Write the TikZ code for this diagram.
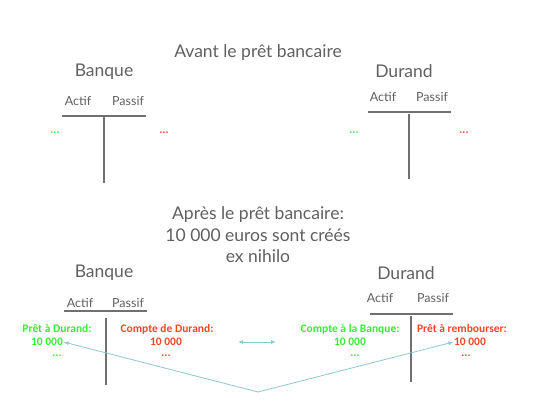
\documentclass[tikz,border=0pt]{standalone}
\usepackage{fontspec}
\setmainfont{Lato}
\newfontfamily\lblfont{Carlito}
\usetikzlibrary{arrows.meta}
\definecolor{txtgray}{HTML}{606060}
\definecolor{actgreen}{HTML}{33EE33}
\definecolor{pasred}{HTML}{FF4422}
\definecolor{arrblue}{HTML}{8CC8D2}
\begin{document}
\begin{tikzpicture}[
      x = 1pt, y = -1pt,
      every node/.style = {txtgray, inner sep = .5pt},
      title/.style = {font = \fontsize{17.5}{21.5}\selectfont},
      owner/.style = {font = \fontsize{17.5}{21}\selectfont},
      col/.style = {font = \fontsize{12.5}{15}\selectfont},
      act/.style = {actgreen, font = \lblfont\bfseries\fontsize{11.5}{13}\selectfont},
      pas/.style = {pasred, font = \lblfont\bfseries\fontsize{11.5}{13}\selectfont},
      tline/.style = {draw = txtgray!90, line width = 1.1pt},
      link/.style = {draw = arrblue, line width = .8pt, -{Latex[length=5pt,width=4pt]}}
      ]
    \useasboundingbox (0,0) rectangle (550,413);
    % avant
    \node[title] (T1) at (258,53) {Avant le prêt bancaire};
    \node[owner] (B1) at (104,72) {Banque}; % 0
    \node[owner] (D1) at (404,71) {Durand}; % 1
    \node[col] (B1a) at (78,101) {Actif};
    \node[col] (B1p) at (128,101) {Passif};
    \node[col] (D1a) at (383,97) {Actif};
    \node[col] (D1p) at (432,97) {Passif};
    \coordinate (b1l) at (62,116);
    \coordinate (b1r) at (146,116);
    \coordinate (b1t) at (104,117);
    \coordinate (b1b) at (104,183);
    \coordinate (d1l) at (368,112);
    \coordinate (d1r) at (451,112);
    \coordinate (d1t) at (409,114);
    \coordinate (d1b) at (409,179);
    \draw[tline] (b1l)--(b1r);
    \draw[tline] (b1t)--(b1b);
    \draw[tline] (d1l)--(d1r);
    \draw[tline] (d1t)--(d1b);
    \node[act] (B1x) at (55,133) {...};
    \node[pas] (B1y) at (164,133) {...};
    \node[act] (D1x) at (354,133) {...};
    \node[pas] (D1y) at (464,133) {...};
    % apres
    \node[title, align = center] (T2) at (258,235)
      {Après le prêt bancaire:\\10 000 euros sont créés\\ex nihilo};
    \node[owner] (B2) at (104,273) {Banque}; % 2
    \node[owner] (D2) at (406,273) {Durand}; % 3
    \node[col] (B2a) at (80,303) {Actif};
    \node[col] (B2p) at (128,303) {Passif};
    \node[col] (D2a) at (380,298) {Actif};
    \node[col] (D2p) at (433,298) {Passif};
    \coordinate (b2l) at (64,311);
    \coordinate (b2r) at (147,311);
    \coordinate (b2t) at (106,318);
    \coordinate (b2b) at (106,385);
    \coordinate (d2l) at (370,314);
    \coordinate (d2r) at (453,314);
    \coordinate (d2t) at (411,316);
    \coordinate (d2b) at (411,382);
    \draw[tline] (b2l)--(b2r);
    \draw[tline] (b2t)--(b2b);
    \draw[tline] (d2l)--(d2r);
    \draw[tline] (d2t)--(d2b);
    \node[act] (L1) at (57,329) {Prêt à Durand:};
    \node[act] (L2) at (47,342) {10 000};
    \node[act] (L3) at (57,356) {...};
    \node[pas] (P1) at (167,329) {Compte de Durand:};
    \node[pas] (P2) at (166,342) {10 000};
    \node[pas] (P3) at (166,356) {...};
    \node[act] (C1) at (350,329) {Compte à la Banque:};
    \node[act] (C2) at (350,342) {10 000};
    \node[act] (C3) at (355,356) {...};
    \node[pas] (R1) at (462,329) {Prêt à rembourser:};
    \node[pas] (R2) at (470,342) {10 000};
    \node[pas] (R3) at (466,356) {...};
    % fleches
    \coordinate (m1) at (238,342);
    \coordinate (m2) at (276,342);
    \coordinate (j) at (258,392);
    \draw[link, {Latex[length=5pt,width=4pt]}-{Latex[length=5pt,width=4pt]}] (m1)--(m2);
    \draw[link] (j)--(L2.east);
    \draw[link] (j)--(R2.west);
  \end{tikzpicture}
\end{document}
